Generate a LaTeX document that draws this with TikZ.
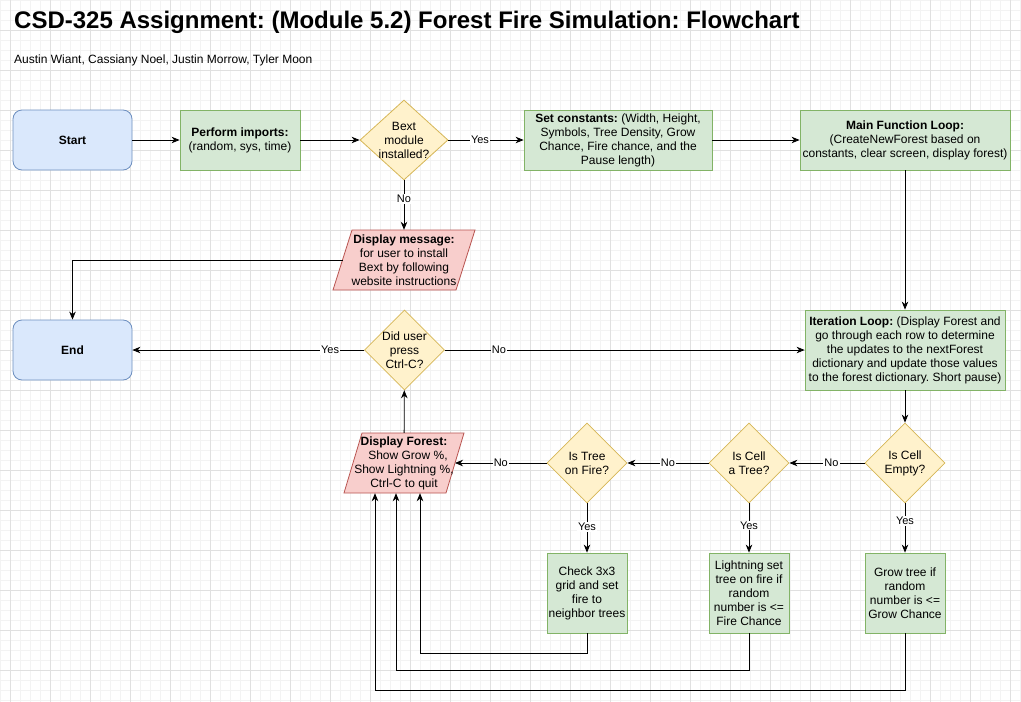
\documentclass[tikz,border=0pt]{standalone}
\usepackage{fontspec}
\setmainfont{Liberation Sans}
\usetikzlibrary{arrows.meta,calc,shapes.geometric}
\frenchspacing
\definecolor{bluefill}{HTML}{DAE8FC}
\definecolor{bluedraw}{HTML}{6C8EBF}
\definecolor{greenfill}{HTML}{D5E8D4}
\definecolor{greendraw}{HTML}{82B366}
\definecolor{yelfill}{HTML}{FFF2CC}
\definecolor{yeldraw}{HTML}{D6B656}
\definecolor{redfill}{HTML}{F8CECC}
\definecolor{reddraw}{HTML}{B85450}
\definecolor{gridminor}{HTML}{F3F3F3}
\definecolor{gridmajor}{HTML}{E0E0E0}
\tikzset{
  txt/.style={font=\fontsize{12}{14}\selectfont, align=center, inner sep=1pt},
  term/.style={txt, rectangle, rounded corners=9pt, draw=bluedraw, fill=bluefill, line width=0.8pt, minimum width=119pt, minimum height=60pt},
  proc/.style={txt, rectangle, draw=greendraw, fill=greenfill, line width=0.8pt, minimum height=60pt},
  dec/.style={diamond, draw=yeldraw, fill=yelfill, line width=0.8pt, inner sep=0pt, minimum width=80pt, minimum height=80pt},
  iobox/.style={txt, rectangle, draw=none, minimum height=60pt},
  iofill/.style={draw=reddraw, fill=redfill, line width=0.8pt},
  arr/.style={draw=black, line width=0.8pt, -{Stealth[length=8pt,width=6.5pt,inset=2.5pt]}},
  lbl/.style={font=\fontsize{11}{12}\selectfont, fill=white, inner sep=1pt},
}
\begin{document}
\begin{tikzpicture}[x=1pt,y=-1pt]
\useasboundingbox (0,0) rectangle (1021,702);
\fill[white] (0,0) rectangle (1021,702);
\foreach \i in {0,10,...,1020} \draw[gridminor, line width=0.8pt] (\i,0) -- (\i,702);
\foreach \j in {0,10,...,700} \draw[gridminor, line width=0.8pt] (0,\j) -- (1021,\j);
\foreach \i in {10,50,...,1010} \draw[gridmajor, line width=0.8pt] (\i,0) -- (\i,702);
\foreach \j in {30,70,...,690} \draw[gridmajor, line width=0.8pt] (0,\j) -- (1021,\j);

% title
\node[anchor=base west, inner sep=0pt, font=\fontsize{24}{26}\selectfont\bfseries] (title) at (14,28) {CSD-325 Assignment: (Module 5.2) Forest Fire Simulation: Flowchart};
\node[anchor=base west, inner sep=0pt, font=\fontsize{12}{14}\selectfont] (authors) at (14,63) {Austin Wiant, Cassiany Noel, Justin Morrow, Tyler Moon};

% top row
\node[term] (start) at (72.5,140) {\textbf{Start}};
\node[proc, minimum width=120pt] (imports) at (240,140) {\textbf{Perform imports:}\\(random, sys, time)};
\node[dec, minimum width=88pt] (bext) at (404,140) {};
\node[txt] (bextT) at (bext) {Bext\\module\\installed?};
\node[proc, minimum width=188pt] (consts) at (618,140) {\textbf{Set constants:} (Width, Height,\\Symbols, Tree Density, Grow\\Chance, Fire chance, and the\\Pause length)};
\node[proc, minimum width=210pt] (main) at (905,140) {\textbf{Main Function Loop:}\\(CreateNewForest based on\\constants, clear screen, display forest)};

% display message
\filldraw[iofill] (352,230) -- (475,230) -- (456,290) -- (333,290) -- cycle;
\node[iobox, minimum width=142pt] (msg) at (404,260) {\textbf{Display message:}\\for user to install\\Bext by following\\website instructions};
\coordinate (msgL) at (342.5,260);

% middle row
\node[term] (endn) at (72.5,350) {\textbf{End}};
\node[dec] (user) at (404.5,350) {};
\node[txt] (userT) at (user) {Did user\\press\\Ctrl-C?};
\node[proc, minimum width=200pt, minimum height=80pt] (iter) at (905,350) {\textbf{Iteration Loop:} (Display Forest and\\go through each row to determine\\the updates to the nextForest\\dictionary and update those values\\to the forest dictionary. Short pause)};

% decision row
\filldraw[iofill] (362,433) -- (464,433) -- (446,493) -- (344,493) -- cycle;
\node[iobox, minimum width=120pt] (fore) at (404,463) {\textbf{Display Forest:}\\\hspace*{8pt}Show Grow \%,\\Show Lightning \%,\\Ctrl-C to quit};
\coordinate (foreR) at (455,463);
\node[dec] (fire) at (587,463) {};
\node[txt] (fireT) at (fire) {Is Tree\\on Fire?};
\node[dec] (cell) at (749,463) {};
\node[txt] (cellT) at (cell) {Is Cell\\a Tree?};
\node[dec] (empty) at (905,463) {};
\node[txt] (emptyT) at (empty) {Is Cell\\Empty?};

% action row
\node[proc, minimum width=80pt, minimum height=80pt] (check) at (587,593) {Check 3x3\\grid and set\\fire to\\neighbor trees};
\node[proc, minimum width=80pt, minimum height=80pt] (light) at (749,593) {Lightning set\\tree on fire if\\random\\number is <=\\Fire Chance};
\node[proc, minimum width=80pt, minimum height=80pt] (grow) at (905,593) {Grow tree if\\random\\number is <=\\Grow Chance};

\coordinate (r1) at (420,653);
\coordinate (r2) at (396,670);
\coordinate (r3) at (375,690);

% connectors
\draw[arr] (start) -- (imports);
\draw[arr] (imports) -- (bext);
\draw[arr] (bext) -- node[lbl, pos=0.42]{Yes} (consts);
\draw[arr] (consts) -- (main);
\draw[arr] (bext) -- node[lbl, pos=0.38]{No} (msg);
\draw[arr] (msgL) -| (endn);
\draw[arr] (main) -- (iter);
\draw[arr] (user) -- node[lbl, pos=0.147]{Yes} (endn);
\draw[arr] (user) -- node[lbl, pos=0.15]{No} (iter);
\draw[arr] (iter) -- (empty);
\draw[arr] (empty) -- node[lbl, pos=0.44]{No} (cell);
\draw[arr] (cell) -- node[lbl]{No} (fire);
\draw[arr] (fire) -- node[lbl]{No} (foreR);
\draw[arr] (fore) -- (user);
\draw[arr] (fire) -- node[lbl, pos=0.48]{Yes} (check);
\draw[arr] (cell) -- node[lbl, pos=0.45]{Yes} (light);
\draw[arr] (empty) -- node[lbl, pos=0.36]{Yes} (grow);
\draw[arr] (check) |- (r1) -- (r1 |- fore.south);
\draw[arr] (light) |- (r2) -- (r2 |- fore.south);
\draw[arr] (grow) |- (r3) -- (r3 |- fore.south);
\end{tikzpicture}
\end{document}
